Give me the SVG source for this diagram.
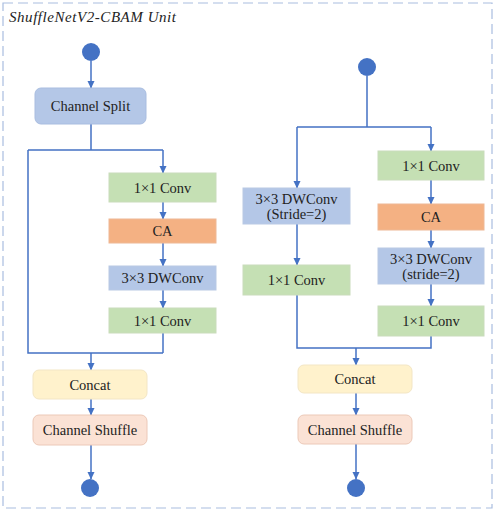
<svg xmlns="http://www.w3.org/2000/svg" width="497" height="512" viewBox="0 0 497 512">
<defs>
<marker id="ah" markerWidth="8" markerHeight="8" refX="7" refY="4" orient="auto" markerUnits="userSpaceOnUse">
<path d="M0,0.5 L7.5,4 L0,7.5 Z" fill="#4472c4"/>
</marker>
<style>
.t{font-family:"Liberation Serif","Times New Roman",serif;font-size:14.5px;fill:#222;text-anchor:middle;dominant-baseline:central}
.c{fill:none;stroke:#4472c4;stroke-width:1.5}
.a{marker-end:url(#ah)}
.dot{fill:#4472c4}
.green{fill:#c5e0b4;stroke:#c9dcbb;stroke-width:1}
.orange{fill:#f4b183;stroke:#eeb895;stroke-width:1}
.blue{fill:#b4c7e7;stroke:#b9c9e4;stroke-width:1}
.split{fill:#b4c7e7;stroke:#a9bde0;stroke-width:1}
.concat{fill:#fff2cc;stroke:#f3e6c5;stroke-width:1}
.shuffle{fill:#fbe2d5;stroke:#ecc9b8;stroke-width:1}
</style>
</defs>
<rect width="497" height="512" fill="#ffffff"/>
<rect x="3" y="3" width="489" height="505" fill="none" stroke="#a9bde0" stroke-width="1.2" stroke-dasharray="10,5"/>
<text x="9" y="22" font-family="Liberation Serif, Times New Roman, serif" font-style="italic" font-size="15" fill="#222" textLength="167" lengthAdjust="spacing">ShuffleNetV2-CBAM Unit</text>

<g id="connectors">
<path class="c a" d="M91,61 V88"/>
<path class="c" d="M91,124 V150 M28,150 H163 M28,150 V353 H163"/>
<path class="c a" d="M163,150 V173"/>
<path class="c a" d="M163,202 V219"/>
<path class="c a" d="M163,243 V266"/>
<path class="c a" d="M163,290 V308"/>
<path class="c" d="M163,333 V353"/>
<path class="c a" d="M91,353 V370"/>
<path class="c a" d="M91,399 V415"/>
<path class="c a" d="M91,445 V479"/>

<path class="c" d="M367,76 V127 M297,127 H431"/>
<path class="c a" d="M297,127 V188"/>
<path class="c a" d="M431,127 V151"/>
<path class="c a" d="M431,180 V204"/>
<path class="c a" d="M431,230 V248"/>
<path class="c a" d="M431,284 V306"/>
<path class="c a" d="M297,224 V265"/>
<path class="c" d="M297,295 V348 H431 V336"/>
<path class="c a" d="M356,348 V365"/>
<path class="c a" d="M356,393 V415"/>
<path class="c a" d="M356,444 V479"/>
</g>

<g id="l_in"><circle class="dot" cx="91" cy="52" r="9"/></g>
<g id="l_split"><rect class="split" x="35" y="88" width="111" height="36" rx="6"/><text class="t" x="90.5" y="106">Channel Split</text></g>
<g id="l_conv1"><rect class="green" x="109" y="173" width="107" height="29"/><text class="t" x="162.5" y="187.5">1×1 Conv</text></g>
<g id="l_ca"><rect class="orange" x="109" y="219" width="107" height="24"/><text class="t" x="162.5" y="231">CA</text></g>
<g id="l_dw"><rect class="blue" x="109" y="266" width="107" height="24"/><text class="t" x="162.5" y="278">3×3 DWConv</text></g>
<g id="l_conv2"><rect class="green" x="109" y="308" width="107" height="25"/><text class="t" x="162.5" y="320.5">1×1 Conv</text></g>
<g id="l_concat"><rect class="concat" x="33" y="370" width="114" height="29" rx="6"/><text class="t" x="90" y="384.5">Concat</text></g>
<g id="l_shuffle"><rect class="shuffle" x="33" y="415" width="114" height="30" rx="6"/><text class="t" x="90" y="430">Channel Shuffle</text></g>
<g id="l_out"><circle class="dot" cx="90" cy="488" r="9"/></g>

<g id="r_in"><circle class="dot" cx="367" cy="67" r="9"/></g>
<g id="r_dw_left"><rect class="blue" x="243" y="188" width="107" height="36"/><text class="t" x="296.5" y="199">3×3 DWConv</text><text class="t" x="296.5" y="214">(Stride=2)</text></g>
<g id="r_conv_left"><rect class="green" x="243" y="265" width="107" height="30"/><text class="t" x="296.5" y="280">1×1 Conv</text></g>
<g id="r_conv1"><rect class="green" x="378" y="151" width="106" height="29"/><text class="t" x="431" y="165.5">1×1 Conv</text></g>
<g id="r_ca"><rect class="orange" x="378" y="204" width="106" height="26"/><text class="t" x="431" y="217">CA</text></g>
<g id="r_dw"><rect class="blue" x="378" y="248" width="106" height="36"/><text class="t" x="431" y="259">3×3 DWConv</text><text class="t" x="431" y="274">(stride=2)</text></g>
<g id="r_conv2"><rect class="green" x="378" y="306" width="106" height="30"/><text class="t" x="431" y="321">1×1 Conv</text></g>
<g id="r_concat"><rect class="concat" x="298" y="365" width="114" height="28" rx="6"/><text class="t" x="355" y="379">Concat</text></g>
<g id="r_shuffle"><rect class="shuffle" x="298" y="415" width="114" height="29" rx="6"/><text class="t" x="355" y="429.5">Channel Shuffle</text></g>
<g id="r_out"><circle class="dot" cx="356" cy="488" r="9"/></g>
</svg>
